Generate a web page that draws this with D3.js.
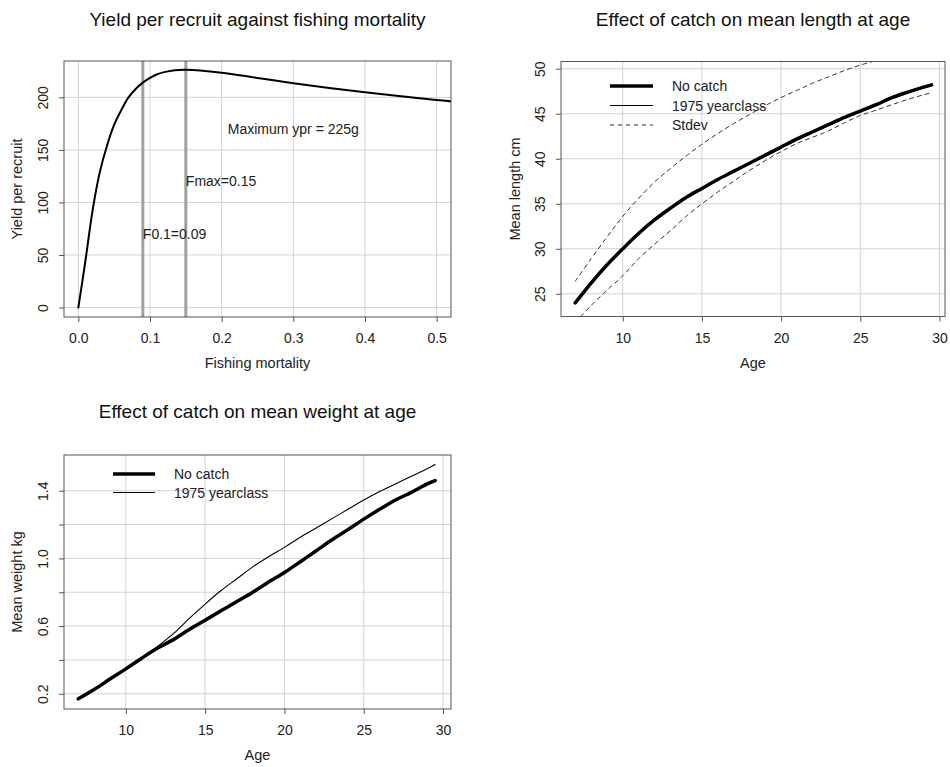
<!DOCTYPE html>
<html>
<head>
<meta charset="utf-8">
<script src="https://cdn.jsdelivr.net/npm/d3@7"></script>
<style>
  html, body { margin: 0; padding: 0; background: #fff; }
  svg { display: block; font-family: "Liberation Sans", Arial, Helvetica, sans-serif; }
</style>
</head>
<body>
<svg id="chart" width="950" height="767"></svg>
<script>
// ---------------- DATA ----------------
// Panel 1: yield per recruit vs fishing mortality
const yprF      = [0, 0.01, 0.02, 0.03, 0.04, 0.05, 0.06, 0.07, 0.08, 0.09, 0.10, 0.11, 0.12, 0.13, 0.14, 0.15, 0.17, 0.20, 0.25, 0.30, 0.35, 0.40, 0.45, 0.50, 0.55];
const yprYield  = [0, 45, 93, 129, 154, 174, 188, 200, 208, 214, 218.5, 222, 224, 225.3, 226, 226.2, 225.6, 223.5, 218.5, 213.5, 209, 204.8, 201, 197.4, 194.5];
const refLines  = [0.09, 0.15];
const yprNotes  = [
  {x: 0.30, y: 170, text: "Maximum ypr = 225g", anchor: "middle"},
  {x: 0.15, y: 120, text: "Fmax=0.15", anchor: "start"},
  {x: 0.09, y: 70,  text: "F0.1=0.09", anchor: "start"}
];
const yprXTicks = [0, 0.1, 0.2, 0.3, 0.4, 0.5];
const yprYTicks = [0, 50, 100, 150, 200];

// Panels 2 & 3: by age
const ages        = [7, 8, 9, 10, 11, 12, 13, 14, 15, 16, 17, 18, 19, 20, 21, 22, 23, 24, 25, 26, 27, 28, 29, 29.5];
const lenNoCatch  = [24.0, 26.2, 28.2, 30.0, 31.7, 33.2, 34.5, 35.7, 36.7, 37.7, 38.6, 39.5, 40.4, 41.3, 42.2, 43.0, 43.8, 44.6, 45.3, 46.0, 46.8, 47.4, 47.95, 48.2];
const len1975     = [24.0, 26.2, 28.2, 30.0, 31.7, 33.2, 34.5, 35.7, 36.7, 37.7, 38.6, 39.45, 40.3, 41.2, 42.1, 42.9, 43.7, 44.5, 45.2, 45.9, 46.7, 47.3, 47.85, 48.1];
const lenSdUpper  = [26.4, 28.9, 31.3, 33.6, 35.6, 37.4, 38.9, 40.3, 41.6, 42.8, 43.9, 44.9, 45.9, 46.8, 47.6, 48.4, 49.1, 49.8, 50.4, 50.9, 51.4, 51.8, 52.2, 52.4];
const lenSdLower  = [21.8, 23.7, 25.4, 27.0, 28.9, 30.5, 32.0, 33.6, 35.0, 36.3, 37.5, 38.7, 39.8, 40.8, 41.7, 42.4, 43.1, 44.0, 44.8, 45.4, 46.0, 46.6, 47.1, 47.35];
const wtNoCatch   = [0.170, 0.225, 0.287, 0.347, 0.410, 0.470, 0.520, 0.580, 0.635, 0.690, 0.745, 0.800, 0.860, 0.917, 0.980, 1.045, 1.110, 1.170, 1.232, 1.290, 1.345, 1.390, 1.440, 1.460];
const wt1975      = [0.170, 0.225, 0.287, 0.347, 0.412, 0.480, 0.555, 0.645, 0.730, 0.810, 0.880, 0.950, 1.010, 1.065, 1.125, 1.180, 1.235, 1.290, 1.345, 1.395, 1.440, 1.485, 1.530, 1.555];
const ageTicks    = [10, 15, 20, 25, 30];
const lenTicks    = [25, 30, 35, 40, 45, 50];
const wtTicks     = [0.2, 0.4, 0.6, 0.8, 1.0, 1.2, 1.4];
const wtTickLabels= ["0.2", "", "0.6", "", "1.0", "", "1.4"];

// ---------------- DRAWING ----------------
const svg = d3.select("#chart");
const GRID = "#d3d3d3", AXIS = "#555", TXT = "#222";
let clipId = 0;

function panel(opt) {
  const {x0, x1, y0, y1, xDom, yDom, xTicks, yTicks, yLabels, xFmt, title, titleY, xTitle, yTitle} = opt;
  const g = svg.append("g");
  const x = d3.scaleLinear().domain(xDom).range([x0, x1]);
  const y = d3.scaleLinear().domain(yDom).range([y1, y0]);
  const id = "clip" + (clipId++);
  svg.append("clipPath").attr("id", id).append("rect")
    .attr("x", x0).attr("y", y0).attr("width", x1 - x0).attr("height", y1 - y0);

  // grid
  const grid = g.append("g").attr("clip-path", `url(#${id})`);
  grid.selectAll(".gx").data(xTicks).join("line")
    .attr("x1", d => x(d)).attr("x2", d => x(d)).attr("y1", y0).attr("y2", y1)
    .attr("stroke", GRID).attr("stroke-width", 1);
  grid.selectAll(".gy").data(yTicks).join("line")
    .attr("y1", d => y(d)).attr("y2", d => y(d)).attr("x1", x0).attr("x2", x1)
    .attr("stroke", GRID).attr("stroke-width", 1);

  const plot = g.append("g").attr("clip-path", `url(#${id})`);

  // axes (ticks outward)
  const xa = d3.axisBottom(x).tickValues(xTicks).tickSize(5).tickSizeOuter(0)
    .tickFormat(xFmt || (d => d));
  const xg = g.append("g").attr("transform", `translate(0,${y1})`).call(xa);
  xg.select(".domain").remove();
  xg.selectAll(".tick line").attr("stroke", AXIS);
  xg.selectAll(".tick text").attr("font-size", 14).attr("fill", TXT)
    .attr("font-family", null).attr("dy", null).attr("y", 26);

  const ya = d3.axisLeft(y).tickValues(yTicks).tickSize(5).tickSizeOuter(0)
    .tickFormat((d, i) => yLabels ? yLabels[i] : d);
  const yg = g.append("g").attr("transform", `translate(${x0},0)`).call(ya);
  yg.select(".domain").remove();
  yg.selectAll(".tick line").attr("stroke", AXIS);
  yg.selectAll(".tick text").attr("font-size", 14).attr("fill", TXT)
    .attr("font-family", null).attr("dy", null).attr("x", null)
    .attr("text-anchor", "middle")
    .attr("transform", "translate(-16,0) rotate(-90)");

  // box
  g.append("rect").attr("x", x0).attr("y", y0).attr("width", x1 - x0).attr("height", y1 - y0)
    .attr("fill", "none").attr("stroke", AXIS).attr("stroke-width", 1);

  // titles
  g.append("text").attr("x", (x0 + x1) / 2).attr("y", titleY).attr("text-anchor", "middle")
    .attr("font-size", 19).attr("fill", "#111").text(title);
  g.append("text").attr("x", (x0 + x1) / 2).attr("y", y1 + 51).attr("text-anchor", "middle")
    .attr("font-size", 14.5).attr("fill", TXT).text(xTitle);
  g.append("text").attr("transform", `translate(${opt.yTitleX},${(y0 + y1) / 2}) rotate(-90)`)
    .attr("text-anchor", "middle").attr("font-size", 14.5).attr("fill", TXT).text(yTitle);

  return {g, plot, x, y};
}

function series(p, xs, ys, style) {
  const line = d3.line().x((d, i) => p.x(xs[i])).y(d => p.y(d)).curve(d3.curveCatmullRom.alpha(0.5));
  p.plot.append("path").datum(ys).attr("d", line).attr("fill", "none")
    .attr("stroke", style.color).attr("stroke-width", style.width)
    .attr("stroke-dasharray", style.dash || null)
    .attr("stroke-linejoin", "round").attr("stroke-linecap", "round");
}

function legend(p, lx0, lx1, tx, ys, items) {
  items.forEach((it, i) => {
    p.g.append("line").attr("x1", lx0).attr("x2", lx1).attr("y1", ys[i]).attr("y2", ys[i])
      .attr("stroke", it.color).attr("stroke-width", it.width).attr("stroke-dasharray", it.dash || null);
    p.g.append("text").attr("x", tx).attr("y", ys[i] + 5).attr("font-size", 14).attr("fill", TXT).text(it.label);
  });
}

const sNo   = {color: "#000", width: 3.5, label: "No catch"};
const s75   = {color: "#000", width: 1.1, label: "1975 yearclass"};
const sSd   = {color: "#333", width: 1, dash: "4,4", label: "Stdev"};

// Panel 1
const p1 = panel({
  x0: 64, x1: 451, y0: 61, y1: 317,
  xDom: [-0.02, 0.52], yDom: [-9.0, 234.6],
  xTicks: yprXTicks, yTicks: yprYTicks, xFmt: d3.format(".1f"),
  title: "Yield per recruit against fishing mortality", titleY: 26,
  xTitle: "Fishing mortality", yTitle: "Yield per recruit", yTitleX: 22
});
p1.plot.selectAll(".ref").data(refLines).join("line")
  .attr("x1", d => p1.x(d)).attr("x2", d => p1.x(d)).attr("y1", 61).attr("y2", 317)
  .attr("stroke", "#a0a0a0").attr("stroke-width", 3);
series(p1, yprF, yprYield, {color: "#000", width: 2});
yprNotes.forEach(n => {
  p1.g.append("text").attr("x", p1.x(n.x)).attr("y", p1.y(n.y) + 5).attr("text-anchor", n.anchor)
    .attr("font-size", 14).attr("fill", TXT).text(n.text);
});

// Panel 2
const p2 = panel({
  x0: 561, x1: 945, y0: 61.5, y1: 316.5,
  xDom: [6.1, 30.35], yDom: [22.48, 50.8],
  xTicks: ageTicks, yTicks: lenTicks,
  title: "Effect of catch on mean length at age", titleY: 26,
  xTitle: "Age", yTitle: "Mean length cm", yTitleX: 520
});
series(p2, ages, lenSdUpper, sSd);
series(p2, ages, lenSdLower, sSd);
series(p2, ages, len1975, s75);
series(p2, ages, lenNoCatch, sNo);
legend(p2, 610, 653, 672, [86, 105.5, 125], [sNo, s75, sSd]);

// Panel 3
const p3 = panel({
  x0: 64, x1: 451, y0: 455, y1: 709,
  xDom: [6.1, 30.5], yDom: [0.11, 1.611],
  xTicks: ageTicks, yTicks: wtTicks, yLabels: wtTickLabels,
  title: "Effect of catch on mean weight at age", titleY: 418,
  xTitle: "Age", yTitle: "Mean weight kg", yTitleX: 22
});
series(p3, ages, wt1975, s75);
series(p3, ages, wtNoCatch, sNo);
legend(p3, 113, 155, 174, [474, 492.5], [sNo, s75]);
</script>
</body>
</html>
